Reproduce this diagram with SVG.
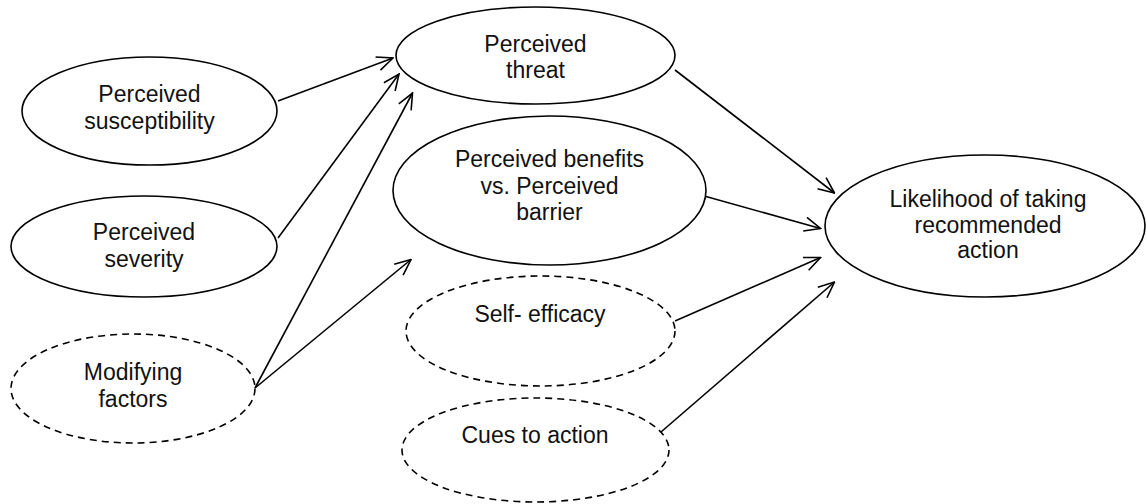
<svg xmlns="http://www.w3.org/2000/svg" width="1146" height="504" viewBox="0 0 1146 504">
  <style>
    .node ellipse { fill: #ffffff; stroke: #000000; stroke-width: 1.6; }
    .node.dashed ellipse { stroke-dasharray: 7 5; }
    .node text { font-family: "Liberation Sans", Arial, sans-serif; font-size: 23px; fill: #111111; text-anchor: middle; }
    .edges line { stroke: #000000; stroke-width: 1.6; marker-end: url(#arrow); }
  </style>
  <defs>
    <marker id="arrow" viewBox="0 0 18 16" refX="17" refY="8" markerWidth="18" markerHeight="16" markerUnits="userSpaceOnUse" orient="auto">
      <path d="M1,1 L17,8 L1,15" fill="none" stroke="#000000" stroke-width="1.6"/>
    </marker>
  </defs>
  <rect width="1146" height="504" fill="#ffffff"/>

  <g id="susceptibility" class="node">
    <ellipse cx="149.5" cy="111" rx="127.5" ry="54"/>
    <text x="149.5" y="102">Perceived</text>
    <text x="149.5" y="129">susceptibility</text>
  </g>

  <g id="severity" class="node">
    <ellipse cx="144" cy="246.5" rx="133" ry="50.5"/>
    <text x="144" y="240">Perceived</text>
    <text x="144" y="267">severity</text>
  </g>

  <g id="modifying-factors" class="node dashed">
    <ellipse cx="133" cy="388.5" rx="122" ry="54.5"/>
    <text x="133" y="380">Modifying</text>
    <text x="133" y="407">factors</text>
  </g>

  <g id="threat" class="node">
    <ellipse cx="535.5" cy="55.5" rx="139.5" ry="48.5"/>
    <text x="535.5" y="52">Perceived</text>
    <text x="535.5" y="78">threat</text>
  </g>

  <g id="benefits-barriers" class="node">
    <ellipse cx="549.5" cy="190.5" rx="156.5" ry="74.5"/>
    <text x="549.5" y="167">Perceived benefits</text>
    <text x="549.5" y="194">vs. Perceived</text>
    <text x="549.5" y="220">barrier</text>
  </g>

  <g id="self-efficacy" class="node dashed">
    <ellipse cx="540.5" cy="331" rx="134.5" ry="55"/>
    <text x="540" y="322">Self- efficacy</text>
  </g>

  <g id="cues" class="node dashed">
    <ellipse cx="535.5" cy="450" rx="133.5" ry="52"/>
    <text x="535" y="443">Cues to action</text>
  </g>

  <g id="likelihood" class="node">
    <ellipse cx="985" cy="226" rx="160" ry="71"/>
    <text x="988" y="207">Likelihood of taking</text>
    <text x="988" y="233">recommended</text>
    <text x="988" y="258">action</text>
  </g>

  <g id="connectors" class="edges">
    <line x1="278" y1="101" x2="393" y2="58"/>
    <line x1="278" y1="238" x2="399" y2="74"/>
    <line x1="255" y1="388" x2="412.5" y2="93"/>
    <line x1="255" y1="388" x2="411" y2="259.5"/>
    <line x1="675" y1="70" x2="834.5" y2="193"/>
    <line x1="706" y1="196.5" x2="820.5" y2="228.5"/>
    <line x1="675" y1="321" x2="820.5" y2="257.5"/>
    <line x1="661" y1="432" x2="834.5" y2="282"/>
  </g>
</svg>
